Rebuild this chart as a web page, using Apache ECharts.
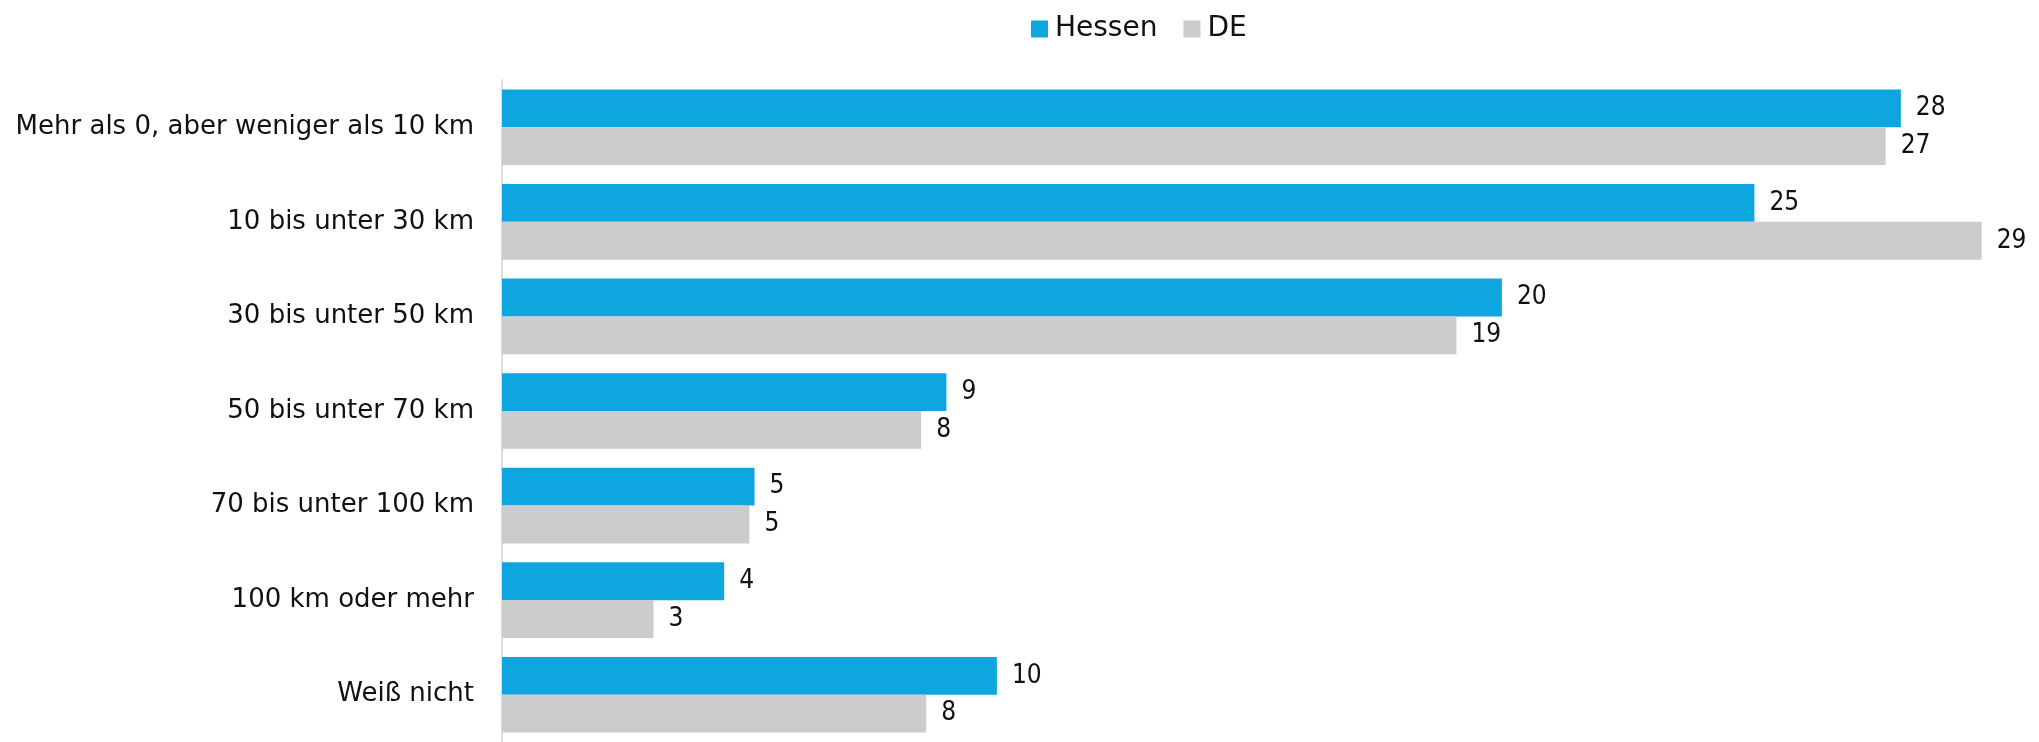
<!DOCTYPE html>
<html>
<head>
<meta charset="utf-8">
<script src="https://cdn.jsdelivr.net/npm/echarts@6/dist/echarts.min.js"></script>
<style>
  html, body { margin: 0; padding: 0; background: #fff; }
  #chart { width: 2039px; height: 742px; }
</style>
</head>
<body>
<div id="chart"></div>
<script>
// Kategorien (Entfernung)
const categories = [
  'Mehr als 0, aber weniger als 10 km',
  '10 bis unter 30 km',
  '30 bis unter 50 km',
  '50 bis unter 70 km',
  '70 bis unter 100 km',
  '100 km oder mehr',
  'Weiß nicht'
];

// Anteile in % (aus den Balkenlängen geschätzt, Beschriftung gerundet)
const hessen = [27.7, 24.8, 19.8, 8.8, 5.0, 4.4, 9.8];
const de = [27.4, 29.3, 18.9, 8.3, 4.9, 3.0, 8.4];

const chart = echarts.init(document.getElementById('chart'));

const labelStyle = {
  show: true,
  position: 'right',
  distance: 15,
  fontFamily: 'DejaVu Sans Condensed',
  fontSize: 26,
  color: '#111',
  formatter: p => Math.round(p.value)
};

const option = {
  animation: false,
  legend: {
    top: 10,
    left: 1026,
    itemWidth: 17,
    itemHeight: 17,
    itemGap: 26,
    icon: 'rect',
    textStyle: {
      fontFamily: 'DejaVu Sans',
      fontSize: 28,
      color: '#111',
      padding: [0, 0, 0, 2]
    },
    data: ['Hessen', 'DE']
  },
  grid: {
    left: 502,
    right: 22,
    top: 80,
    bottom: -3
  },
  xAxis: {
    type: 'value',
    min: 0,
    max: 30,
    show: false
  },
  yAxis: {
    type: 'category',
    data: categories,
    inverse: true,
    axisLine: { lineStyle: { color: '#dcdcdc', width: 2 } },
    axisTick: { length: 8, lineStyle: { color: '#dcdcdc', width: 2 } },
    axisLabel: {
      fontFamily: 'DejaVu Sans',
      fontSize: 26,
      color: '#111',
      margin: 28
    }
  },
  series: [
    {
      name: 'Hessen',
      type: 'bar',
      data: hessen,
      barGap: 0,
      barCategoryGap: '20%',
      itemStyle: { color: '#0ea6df' },
      label: labelStyle
    },
    {
      name: 'DE',
      type: 'bar',
      data: de,
      barGap: 0,
      barCategoryGap: '20%',
      itemStyle: { color: '#cccccc' },
      label: labelStyle
    }
  ]
};

chart.setOption(option);
</script>
</body>
</html>
